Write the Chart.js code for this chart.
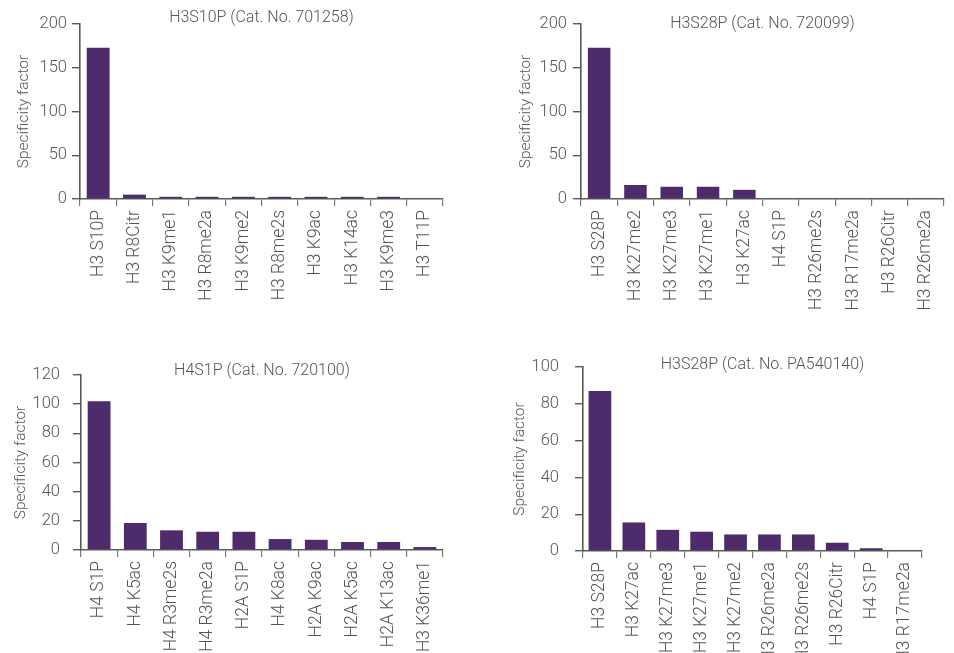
<!DOCTYPE html>
<html>
<head>
<meta charset="utf-8">
<title>Specificity factor</title>
<script src="https://cdn.jsdelivr.net/npm/chart.js@4/dist/chart.umd.min.js"></script>
<style>
  html, body { margin: 0; padding: 0; background: #ffffff; overflow: hidden; }
  #wrap { position: relative; width: 954px; height: 653px; overflow: hidden; }
  #wrap canvas { position: absolute; left: 0; top: 0; }
</style>
</head>
<body>
<div id="wrap">
  <canvas id="c1" width="954" height="760"></canvas>
  <canvas id="c2" width="954" height="760"></canvas>
  <canvas id="c3" width="954" height="760"></canvas>
  <canvas id="c4" width="954" height="760"></canvas>
</div>
<script>
// Peptide array specificity factors for four phospho-histone antibodies
const h3s10pTitle = 'H3S10P (Cat. No. 701258)';
const h3s10pLabels = ['H3 S10P', 'H3 R8Citr', 'H3 K9me1', 'H3 R8me2a', 'H3 K9me2', 'H3 R8me2s', 'H3 K9ac', 'H3 K14ac', 'H3 K9me3', 'H3 T11P'];
const h3s10pValues = [173, 5, 2.5, 2.5, 2.5, 2.5, 2.5, 2.5, 2.5, 0];

const h3s28pTitle = 'H3S28P (Cat. No. 720099)';
const h3s28pLabels = ['H3 S28P', 'H3 K27me2', 'H3 K27me3', 'H3 K27me1', 'H3 K27ac', 'H4 S1P', 'H3 R26me2s', 'H3 R17me2a', 'H3 R26Citr', 'H3 R26me2a'];
const h3s28pValues = [173, 16, 14, 14, 10.5, 0, 0, 0, 0, 0];

const h4s1pTitle = 'H4S1P (Cat. No. 720100)';
const h4s1pLabels = ['H4 S1P', 'H4 K5ac', 'H4 R3me2s', 'H4 R3me2a', 'H2A S1P', 'H4 K8ac', 'H2A K9ac', 'H2A K5ac', 'H2A K13ac', 'H3 K36me1'];
const h4s1pValues = [102, 18.5, 13.5, 12.5, 12.5, 7.5, 7, 5.5, 5.5, 2];

const pa540140Title = 'H3S28P (Cat. No. PA540140)';
const pa540140Labels = ['H3 S28P', 'H3 K27ac', 'H3 K27me3', 'H3 K27me1', 'H3 K27me2', 'H3 R26me2a', 'H3 R26me2s', 'H3 R26Citr', 'H4 S1P', 'H3 R17me2a'];
const pa540140Values = [87, 15.5, 11.5, 10.5, 9, 9, 9, 4.5, 1.5, 0];

const yTitle = 'Specificity factor';

const FONT = 'Roboto, "Liberation Sans", Arial, sans-serif';
const TEXT = '#555555';
const BAR = '#4e2b6a';
const AXIS = '#5a5a5a';
const W = 954, H = 760;   // canvas size; the page window crops the bottom
const Y_BOX = 75;         // fixed width of the y scale box
const X_BOX = 130;        // fixed height of the x scale box

// Title drawn above each plot, centred at a given point
const panelTitle = {
  id: 'panelTitle',
  afterDraw(chart, args, opts) {
    const ctx = chart.ctx;
    ctx.save();
    ctx.font = '300 16px ' + FONT;
    ctx.fillStyle = TEXT;
    ctx.textAlign = 'center';
    ctx.textBaseline = 'middle';
    ctx.fillText(opts.text, opts.x, opts.y);
    ctx.restore();
  }
};

function makePanel(id, cfg) {
  const area = cfg.area; // {left, top, right, bottom} of the plot
  new Chart(document.getElementById(id), {
    type: 'bar',
    data: {
      labels: cfg.labels,
      datasets: [{
        data: cfg.values,
        backgroundColor: BAR,
        borderWidth: 0,
        barPercentage: cfg.barPct,
        categoryPercentage: 1
      }]
    },
    plugins: [panelTitle],
    options: {
      responsive: false,
      animation: false,
      events: [],
      layout: {
        padding: {
          left: area.left - Y_BOX,
          top: area.top,
          right: W - area.right,
          bottom: H - area.bottom - X_BOX
        }
      },
      plugins: {
        legend: { display: false },
        tooltip: { enabled: false },
        title: { display: false },
        panelTitle: { text: cfg.title, x: cfg.titleX, y: cfg.titleY }
      },
      scales: {
        x: {
          afterFit(scale) { scale.height = X_BOX; },
          grid: {
            offset: true,
            drawOnChartArea: false,
            drawTicks: true,
            tickLength: 7,
            color: '#777777',
            lineWidth: 1.2
          },
          border: { display: true, color: AXIS, width: 1.6 },
          ticks: {
            autoSkip: false,
            minRotation: 90,
            maxRotation: 90,
            padding: 4,
            color: TEXT,
            font: { family: FONT, size: 17.5, weight: '300' }
          }
        },
        y: {
          min: 0,
          max: cfg.max,
          afterFit(scale) { scale.width = Y_BOX; },
          grid: {
            drawOnChartArea: false,
            drawTicks: true,
            tickLength: 8,
            color: AXIS,
            lineWidth: 1.4
          },
          border: { display: true, color: AXIS, width: 1.6 },
          ticks: {
            stepSize: cfg.step,
            padding: cfg.tickPad,
            color: TEXT,
            font: { family: FONT, size: 16.5, weight: '300' }
          },
          title: {
            display: true,
            text: yTitle,
            color: TEXT,
            padding: { top: cfg.titlePad, bottom: 0 },
            font: { family: FONT, size: 15.5, weight: '300', lineHeight: 1.2 }
          }
        }
      }
    }
  });
}

makePanel('c1', {
  title: h3s10pTitle, labels: h3s10pLabels, values: h3s10pValues,
  area: { left: 80, top: 24, right: 443, bottom: 199 },
  max: 200, step: 50, tickPad: 5, titlePad: 10, barPct: 0.63,
  titleX: 261.5, titleY: 18
});

makePanel('c2', {
  title: h3s28pTitle, labels: h3s28pLabels, values: h3s28pValues,
  area: { left: 581, top: 24, right: 944, bottom: 199 },
  max: 200, step: 50, tickPad: 6, titlePad: 11, barPct: 0.62,
  titleX: 762.5, titleY: 24
});

makePanel('c3', {
  title: h4s1pTitle, labels: h4s1pLabels, values: h4s1pValues,
  area: { left: 81, top: 375, right: 443, bottom: 550 },
  max: 120, step: 20, tickPad: 13, titlePad: 6, barPct: 0.63,
  titleX: 262, titleY: 371
});

makePanel('c4', {
  title: pa540140Title, labels: pa540140Labels, values: pa540140Values,
  area: { left: 583, top: 367, right: 922, bottom: 551 },
  max: 100, step: 20, tickPad: 16, titlePad: 2.5, barPct: 0.67,
  titleX: 762.5, titleY: 365
});
</script>
</body>
</html>
